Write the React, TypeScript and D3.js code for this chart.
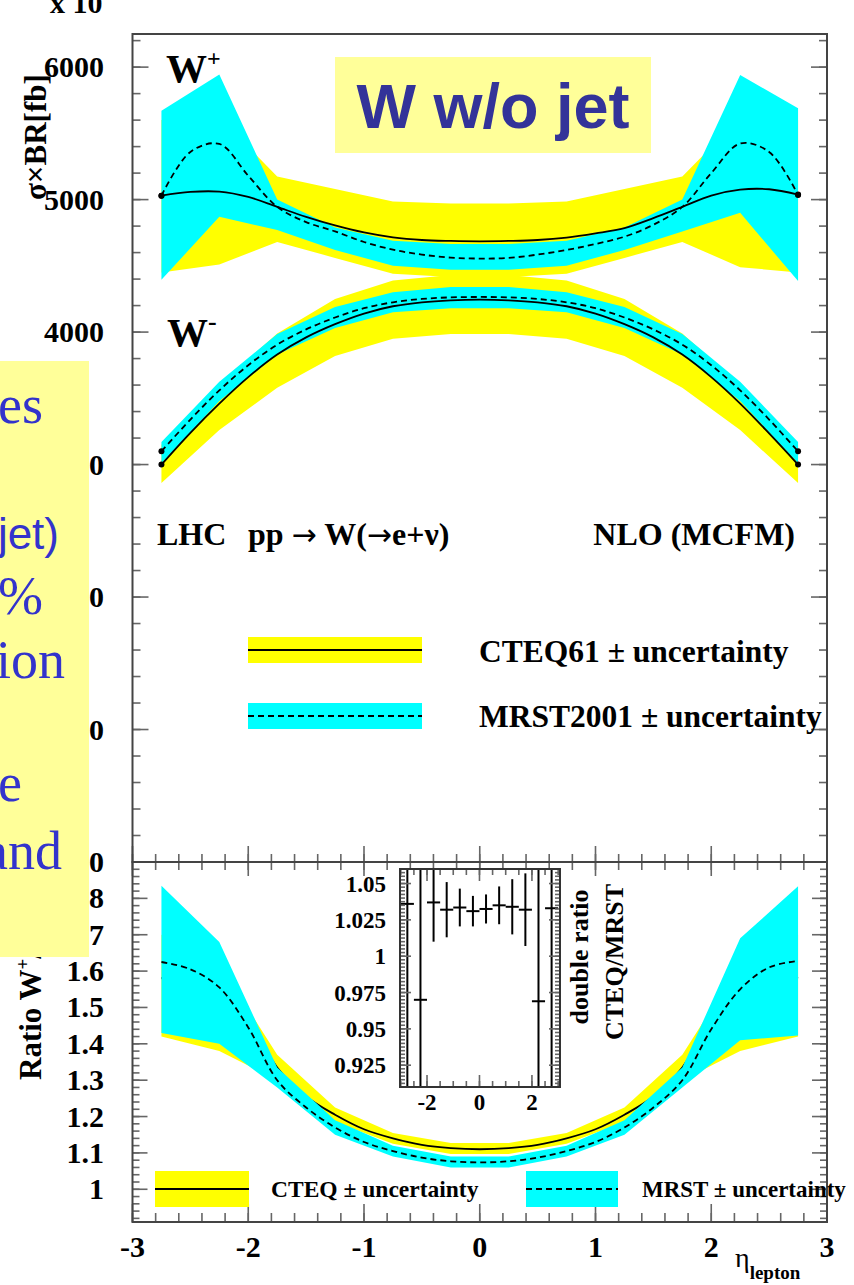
import React, { useEffect, useRef } from "react";
import * as d3 from "d3";

// eta points of the central curves
const etaFine = [-2.75, -2.5, -2.25, -2, -1.75, -1.5, -1.25, -1, -0.75, -0.5, -0.25, 0, 0.25, 0.5, 0.75, 1, 1.25, 1.5, 1.75, 2, 2.25, 2.5, 2.75];
// eta points of the uncertainty bands
const etaBand = [-2.75, -2.25, -1.75, -1.25, -0.75, -0.25, 0.25, 0.75, 1.25, 1.75, 2.25, 2.75];

// W+  sigma x BR [fb]
const wPlusCteq = [5030, 5058, 5060, 5020, 4945, 4870, 4805, 4752, 4715, 4695, 4688, 4685, 4688, 4695, 4713, 4745, 4785, 4860, 4945, 5030, 5075, 5078, 5038];
const wPlusMrst = [5030, 5360, 5420, 5180, 4945, 4830, 4760, 4680, 4622, 4585, 4562, 4555, 4560, 4585, 4620, 4665, 4720, 4810, 4945, 5200, 5423, 5360, 5035];
const wPlusCteqHi = [5600, 5620, 5175, 5080, 4985, 4970, 4970, 4985, 5080, 5175, 5620, 5600];
const wPlusCteqLo = [4450, 4510, 4680, 4560, 4440, 4415, 4415, 4440, 4560, 4680, 4490, 4450];
const wPlusMrstHi = [5670, 5945, 5000, 4790, 4690, 4665, 4665, 4690, 4790, 5000, 5940, 5690];
const wPlusMrstLo = [4395, 4870, 4770, 4620, 4500, 4470, 4470, 4500, 4620, 4760, 4900, 4385];

// W-  sigma x BR [fb]
const wMinusCteq = [3000, 3240, 3460, 3660, 3830, 3960, 4060, 4140, 4195, 4225, 4240, 4245, 4240, 4225, 4195, 4140, 4060, 3960, 3830, 3660, 3460, 3235, 3000];
const wMinusMrst = [3100, 3340, 3560, 3750, 3905, 4020, 4110, 4180, 4225, 4250, 4262, 4265, 4262, 4250, 4225, 4180, 4110, 4020, 3905, 3750, 3560, 3340, 3100];
const wMinusCteqHi = [3150, 3600, 3990, 4250, 4390, 4430, 4430, 4390, 4250, 3990, 3600, 3150];
const wMinusCteqLo = [2860, 3260, 3580, 3820, 3950, 3985, 3985, 3950, 3820, 3580, 3260, 2860];
const wMinusMrstHi = [3170, 3625, 3985, 4190, 4300, 4340, 4340, 4300, 4190, 3985, 3625, 3170];
const wMinusMrstLo = [3010, 3480, 3830, 4030, 4150, 4180, 4180, 4150, 4030, 3830, 3480, 3010];

// ratio W+/W-
const ratioCteq = [1.58, 1.6, 1.58, 1.47, 1.335, 1.255, 1.205, 1.165, 1.14, 1.122, 1.113, 1.11, 1.113, 1.122, 1.14, 1.165, 1.205, 1.255, 1.335, 1.47, 1.58, 1.6, 1.58];
const ratioMrst = [1.625, 1.605, 1.555, 1.445, 1.3, 1.225, 1.17, 1.13, 1.105, 1.087, 1.077, 1.074, 1.077, 1.087, 1.105, 1.13, 1.17, 1.225, 1.3, 1.44, 1.55, 1.61, 1.628];
const ratioCteqHi = [1.7, 1.62, 1.37, 1.225, 1.155, 1.127, 1.127, 1.155, 1.225, 1.37, 1.62, 1.7];
const ratioCteqLo = [1.42, 1.38, 1.3, 1.185, 1.125, 1.097, 1.097, 1.125, 1.185, 1.3, 1.38, 1.42];
const ratioMrstHi = [1.835, 1.68, 1.335, 1.19, 1.12, 1.09, 1.09, 1.12, 1.19, 1.335, 1.69, 1.833];
const ratioMrstLo = [1.43, 1.4, 1.28, 1.15, 1.09, 1.06, 1.06, 1.09, 1.15, 1.28, 1.41, 1.423];

// inset: double ratio CTEQ/MRST
const insetEta = [-2.75, -2.25, -1.75, -1.25, -0.75, -0.25, 0.25, 0.75, 1.25, 1.75, 2.25, 2.75];
const insetVal = [1.036, 0.97, 1.037, 1.032, 1.0335, 1.031, 1.0325, 1.035, 1.034, 1.032, 0.969, 1.033];
const insetErr = [0.5, 0.5, 0.027, 0.019, 0.013, 0.0105, 0.01, 0.013, 0.019, 0.025, 0.5, 0.5];

// tick labels
const topYTicks = [0, 1000, 2000, 3000, 4000, 5000, 6000];
const ratioYTicks = [1, 1.1, 1.2, 1.3, 1.4, 1.5, 1.6, 1.7, 1.8];
const xTicks = [-3, -2, -1, 0, 1, 2, 3];
const insetYTicks = [0.925, 0.95, 0.975, 1, 1.025, 1.05];
const insetXTicks = [-2, 0, 2];

// text fragments of the slide box on the left
const sideText = [
  { t: "es", x: 43, y: 423, sans: false, fs: 54 },
  { t: "jet)", x: 59, y: 549, sans: true, fs: 44 },
  { t: "%", x: 43, y: 614, sans: false, fs: 54 },
  { t: "ion", x: 65, y: 678, sans: false, fs: 54 },
  { t: "e", x: 22, y: 801, sans: false, fs: 54 },
  { t: "and", x: 62, y: 869, sans: false, fs: 54 },
];

const SERIF = "'Liberation Serif', 'Times New Roman', serif";
const SANS = "'Liberation Sans', Arial, sans-serif";
const YELLOW = "#ffff00";
const CYAN = "#00ffff";
const PALE = "#ffff99";

const W = 854;
const H = 1285;
const FL = 132.5;
const FR = 827;
const FT = 34;
const FM = 862;
const FB = 1222;

const App = () => {
  const svgRef = useRef(null);

  useEffect(() => {
    document.body.style.margin = "0";
    const svg = d3.select(svgRef.current).attr("width", W).attr("height", H);
    svg.selectAll("*").remove();

    svg.append("rect").attr("width", W).attr("height", H).attr("fill", "#fff");

    const x = d3.scaleLinear().domain([-3, 3]).range([FL, FR]);
    const yTop = d3.scaleLinear().domain([0, 6250]).range([FM, FT]);
    const yBot = d3.scaleLinear().domain([0.91, 1.9]).range([FB, FM]);
    const xIn = d3.scaleLinear().domain([-3.03, 3.07]).range([400, 560]);
    const yIn = d3.scaleLinear().domain([0.91, 1.06]).range([1087, 869]);

    const defs = svg.append("defs");
    defs.append("clipPath").attr("id", "clipTop")
      .append("rect").attr("x", FL).attr("y", FT).attr("width", FR - FL).attr("height", FM - FT);
    defs.append("clipPath").attr("id", "clipBot")
      .append("rect").attr("x", FL).attr("y", FM).attr("width", FR - FL).attr("height", FB - FM);
    defs.append("clipPath").attr("id", "clipIn")
      .append("rect").attr("x", 400).attr("y", 869).attr("width", 160).attr("height", 218);

    const band = (lo, hi, ys) =>
      d3.area<number>().x((d) => x(d)).y0((d, i) => ys(lo[i])).y1((d, i) => ys(hi[i]))(etaBand);
    const curve = (vals, ys) =>
      d3.line<number>().x((d) => x(d)).y((d, i) => ys(vals[i])).curve(d3.curveCatmullRom.alpha(0.5))(etaFine);

    // ---------- top panel ----------
    const top = svg.append("g").attr("clip-path", "url(#clipTop)");
    top.append("path").attr("d", band(wPlusCteqLo, wPlusCteqHi, yTop)).attr("fill", YELLOW);
    top.append("path").attr("d", band(wMinusCteqLo, wMinusCteqHi, yTop)).attr("fill", YELLOW);
    top.append("path").attr("d", band(wPlusMrstLo, wPlusMrstHi, yTop)).attr("fill", CYAN);
    top.append("path").attr("d", band(wMinusMrstLo, wMinusMrstHi, yTop)).attr("fill", CYAN);
    [wPlusCteq, wMinusCteq].forEach((s) =>
      top.append("path").attr("d", curve(s, yTop)).attr("fill", "none").attr("stroke", "#000").attr("stroke-width", 1.8)
    );
    [wPlusMrst, wMinusMrst].forEach((s) =>
      top.append("path").attr("d", curve(s, yTop)).attr("fill", "none").attr("stroke", "#000")
        .attr("stroke-width", 1.8).attr("stroke-dasharray", "6,4")
    );
    // end markers
    [wPlusCteq, wPlusMrst, wMinusCteq, wMinusMrst].forEach((s) => {
      [0, s.length - 1].forEach((i) =>
        top.append("circle").attr("cx", x(etaFine[i])).attr("cy", yTop(s[i])).attr("r", 3).attr("fill", "#000")
      );
    });

    // ---------- ratio panel ----------
    const bot = svg.append("g").attr("clip-path", "url(#clipBot)");
    bot.append("path").attr("d", band(ratioCteqLo, ratioCteqHi, yBot)).attr("fill", YELLOW);
    bot.append("path").attr("d", curve(ratioCteq, yBot)).attr("fill", "none").attr("stroke", "#000").attr("stroke-width", 1.8);
    bot.append("path").attr("d", band(ratioMrstLo, ratioMrstHi, yBot)).attr("fill", CYAN);
    bot.append("path").attr("d", curve(ratioMrst, yBot)).attr("fill", "none").attr("stroke", "#000")
      .attr("stroke-width", 1.8).attr("stroke-dasharray", "6,4");

    // ---------- ticks ----------
    const tickCol = "#666";
    const hTick = (vals, ys, x0, dir, len) =>
      svg.append("g").selectAll("line").data(vals).join("line")
        .attr("x1", x0).attr("x2", x0 + dir * len)
        .attr("y1", (d) => ys(d)).attr("y2", (d) => ys(d))
        .attr("stroke", tickCol).attr("stroke-width", 1.6);
    const vTick = (vals, xs, y0, dir, len) =>
      svg.append("g").selectAll("line").data(vals).join("line")
        .attr("y1", y0).attr("y2", y0 + dir * len)
        .attr("x1", (d) => xs(d)).attr("x2", (d) => xs(d))
        .attr("stroke", tickCol).attr("stroke-width", 1.6);

    const topMinor = d3.range(0, 6201, 200);
    hTick(topMinor, yTop, FL, 1, 8);
    hTick(topYTicks, yTop, FL, 1, 16);
    hTick(topMinor, yTop, FR, -1, 8);
    hTick(topYTicks, yTop, FR, -1, 16);

    const botMinor = d3.range(0.92, 1.89, 0.02);
    hTick(botMinor, yBot, FL, 1, 7);
    hTick(ratioYTicks, yBot, FL, 1, 15);
    hTick(botMinor, yBot, FR, -1, 7);
    hTick(ratioYTicks, yBot, FR, -1, 15);

    const xMinor = d3.range(-3, 3.01, 0.2);
    vTick(xMinor, x, FM, -1, 8);
    vTick(xTicks, x, FM, -1, 16);
    vTick(xMinor, x, FM, 1, 8);
    vTick(xTicks, x, FM, 1, 14);
    vTick(xMinor, x, FB, -1, 9);
    vTick(xTicks, x, FB, -1, 18);

    // frames
    svg.append("rect").attr("x", FL).attr("y", FT).attr("width", FR - FL).attr("height", FM - FT)
      .attr("fill", "none").attr("stroke", "#444").attr("stroke-width", 2);
    svg.append("rect").attr("x", FL).attr("y", FM).attr("width", FR - FL).attr("height", FB - FM)
      .attr("fill", "none").attr("stroke", "#444").attr("stroke-width", 2);

    // ---------- tick labels ----------
    const label = (txt, px, py, anchor, fs, weight = "bold", fam = SERIF) =>
      svg.append("text").attr("x", px).attr("y", py).attr("text-anchor", anchor)
        .attr("font-family", fam).attr("font-size", fs).attr("font-weight", weight).text(txt);

    topYTicks.forEach((v) => label(String(v), 104, yTop(v) + 10, "end", 30));
    ratioYTicks.forEach((v) => label(String(v), 104, yBot(v) + 10, "end", 30));
    xTicks.forEach((v) => label(String(v), x(v), 1257, "middle", 30));

    // axis titles
    const eta = svg.append("text").attr("x", 735).attr("y", 1267).attr("font-family", SERIF);
    eta.append("tspan").attr("font-size", 28).text("η");
    eta.append("tspan").attr("font-size", 19).attr("font-weight", "bold").attr("dy", 12).text("lepton");

    svg.append("text").attr("transform", "translate(46,200) rotate(-90)")
      .attr("font-family", SERIF).attr("font-size", 31).attr("font-weight", "bold").text("σ×BR[fb]");

    const rt = svg.append("text").attr("transform", "translate(41,1080) rotate(-90)")
      .attr("font-family", SERIF).attr("font-size", 31).attr("font-weight", "bold");
    rt.append("tspan").text("Ratio W");
    rt.append("tspan").attr("font-size", 19).attr("dy", -12).text("+");
    rt.append("tspan").attr("dy", 12).text("/W");
    rt.append("tspan").attr("font-size", 19).attr("dy", -12).text("−");

    label("x 10", 50, 13, "start", 30);

    // W labels
    const wp = svg.append("text").attr("x", 166).attr("y", 82).attr("font-family", SERIF).attr("font-weight", "bold");
    wp.append("tspan").attr("font-size", 41).text("W");
    wp.append("tspan").attr("font-size", 24).attr("dy", -16).text("+");
    const wm = svg.append("text").attr("x", 167).attr("y", 346).attr("font-family", SERIF).attr("font-weight", "bold");
    wm.append("tspan").attr("font-size", 41).text("W");
    wm.append("tspan").attr("font-size", 26).attr("dy", -16).text("-");

    label("LHC", 157, 545, "start", 32);
    const proc = svg.append("text").attr("x", 248).attr("y", 545)
      .attr("font-family", SERIF).attr("font-size", 32).attr("font-weight", "bold");
    proc.append("tspan").text("pp ");
    proc.append("tspan").attr("font-family", "'DejaVu Sans', sans-serif").attr("font-weight", "normal").attr("font-size", 30).text("→");
    proc.append("tspan").text(" W(");
    proc.append("tspan").attr("font-family", "'DejaVu Sans', sans-serif").attr("font-weight", "normal").attr("font-size", 30).text("→");
    proc.append("tspan").text("e+ν)");
    label("NLO (MCFM)", 795, 545, "end", 32);

    // ---------- top legend ----------
    svg.append("rect").attr("x", 248).attr("y", 637).attr("width", 174).attr("height", 26).attr("fill", YELLOW);
    svg.append("line").attr("x1", 248).attr("x2", 422).attr("y1", 650).attr("y2", 650).attr("stroke", "#000").attr("stroke-width", 1.8);
    svg.append("rect").attr("x", 248).attr("y", 703).attr("width", 174).attr("height", 26).attr("fill", CYAN);
    svg.append("line").attr("x1", 248).attr("x2", 422).attr("y1", 716).attr("y2", 716).attr("stroke", "#000")
      .attr("stroke-width", 1.8).attr("stroke-dasharray", "6,4");
    label("CTEQ61 ± uncertainty", 479, 662, "start", 31.5);
    label("MRST2001 ± uncertainty", 479, 727, "start", 31.5);

    // ---------- bottom legend ----------
    svg.append("rect").attr("x", 155).attr("y", 1171).attr("width", 94).attr("height", 36).attr("fill", YELLOW);
    svg.append("line").attr("x1", 155).attr("x2", 249).attr("y1", 1189).attr("y2", 1189).attr("stroke", "#000").attr("stroke-width", 1.8);
    svg.append("rect").attr("x", 526).attr("y", 1171).attr("width", 92).attr("height", 36).attr("fill", CYAN);
    svg.append("line").attr("x1", 526).attr("x2", 618).attr("y1", 1189).attr("y2", 1189).attr("stroke", "#000")
      .attr("stroke-width", 1.8).attr("stroke-dasharray", "6,4");
    label("CTEQ ± uncertainty", 271, 1197, "start", 23.5);
    label("MRST ± uncertainty", 642, 1197, "start", 23);

    // ---------- inset ----------
    svg.append("rect").attr("x", 400).attr("y", 869).attr("width", 160).attr("height", 218).attr("fill", "#fff");
    const ins = svg.append("g").attr("clip-path", "url(#clipIn)");
    insetEta.forEach((e, i) => {
      ins.append("line").attr("x1", xIn(e)).attr("x2", xIn(e))
        .attr("y1", yIn(insetVal[i] + insetErr[i])).attr("y2", yIn(insetVal[i] - insetErr[i]))
        .attr("stroke", "#000").attr("stroke-width", 2);
      ins.append("line").attr("x1", xIn(e - 0.25)).attr("x2", xIn(e + 0.25))
        .attr("y1", yIn(insetVal[i])).attr("y2", yIn(insetVal[i]))
        .attr("stroke", "#000").attr("stroke-width", 2);
    });
    const inMinorY = d3.range(0.9125, 1.06, 0.0025);
    hTick(inMinorY, yIn, 400, 1, 5);
    hTick(insetYTicks, yIn, 400, 1, 11);
    hTick(inMinorY, yIn, 560, -1, 5);
    hTick(insetYTicks, yIn, 560, -1, 11);
    const inMinorX = d3.range(-3, 3.01, 0.5);
    vTick(inMinorX, xIn, 1087, -1, 6);
    vTick(insetXTicks, xIn, 1087, -1, 12);
    vTick(inMinorX, xIn, 869, 1, 6);
    vTick(insetXTicks, xIn, 869, 1, 12);
    svg.append("rect").attr("x", 400).attr("y", 869).attr("width", 160).attr("height", 218)
      .attr("fill", "none").attr("stroke", "#333").attr("stroke-width", 2);
    insetYTicks.forEach((v) => label(String(v), 386, yIn(v) + 8, "end", 23));
    insetXTicks.forEach((v) => label(String(v), xIn(v), 1110, "middle", 23));
    svg.append("text").attr("transform", "translate(588,957) rotate(-90)").attr("text-anchor", "middle")
      .attr("font-family", SERIF).attr("font-size", 26).attr("font-weight", "bold").text("double ratio");
    svg.append("text").attr("transform", "translate(623,962) rotate(-90)").attr("text-anchor", "middle")
      .attr("font-family", SERIF).attr("font-size", 26).attr("font-weight", "bold").text("CTEQ/MRST");

    // ---------- slide overlays ----------
    svg.append("rect").attr("x", 335).attr("y", 57).attr("width", 316).attr("height", 96).attr("fill", PALE);
    svg.append("text").attr("x", 493).attr("y", 128).attr("text-anchor", "middle")
      .attr("font-family", SANS).attr("font-size", 63).attr("font-weight", "bold").attr("fill", "#333399")
      .text("W w/o jet");

    svg.append("rect").attr("x", 0).attr("y", 361).attr("width", 89).attr("height", 596).attr("fill", PALE);
    sideText.forEach((s) =>
      svg.append("text").attr("x", s.x).attr("y", s.y).attr("text-anchor", "end")
        .attr("font-family", s.sans ? SANS : SERIF).attr("font-size", s.fs).attr("fill", "#3333cc").text(s.t)
    );
  }, []);

  return <svg ref={svgRef} style={{ display: "block", position: "absolute", left: 0, top: 0 }}></svg>;
};

export default App;
